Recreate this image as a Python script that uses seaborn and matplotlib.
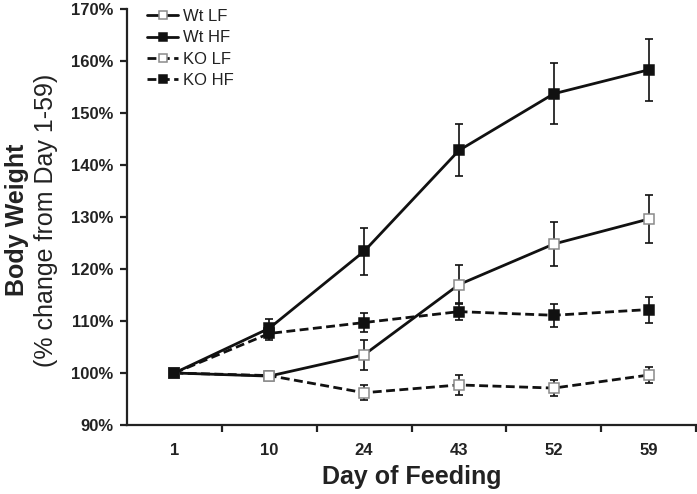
import matplotlib
matplotlib.use("Agg")
import matplotlib.pyplot as plt
import seaborn as sns
import numpy as np
import pandas as pd

# data (% of day-1 body weight)
days = ["1", "10", "24", "43", "52", "59"]
wt_lf = [100, 99.4, 103.5, 117.0, 124.8, 129.6]
wt_lf_err = [0, 0.6, 2.9, 3.7, 4.2, 4.6]
wt_hf = [100, 108.6, 123.4, 142.8, 153.7, 158.3]
wt_hf_err = [0, 1.8, 4.5, 5.0, 5.9, 5.9]
ko_lf = [100, 99.5, 96.2, 97.7, 97.1, 99.6]
ko_lf_err = [0, 0.8, 1.4, 2.0, 1.5, 1.5]
ko_hf = [100, 107.6, 109.7, 111.8, 111.1, 112.2]
ko_hf_err = [0, 1.3, 1.8, 1.6, 2.2, 2.5]

series = [("Wt LF", wt_lf, wt_lf_err, "-", "white", "#8a8a8a"),
          ("Wt HF", wt_hf, wt_hf_err, "-", "#111111", "#111111"),
          ("KO LF", ko_lf, ko_lf_err, "--", "white", "#8a8a8a"),
          ("KO HF", ko_hf, ko_hf_err, "--", "#111111", "#111111")]

sns.set_style("ticks")
plt.rcParams["font.family"] = ["Liberation Sans", "DejaVu Sans"]
TXT = "#222222"

fig = plt.figure(figsize=(6.97, 4.94), dpi=100)
ax = fig.add_axes([0.1822, 0.1397, 0.8164, 0.8421])

x = np.arange(len(days))
for name, vals, err, ls, fc, ec in series:
    df = pd.DataFrame({"pos": x, "val": vals})
    ax.errorbar(x, vals, yerr=err, fmt="none", ecolor="#111111", elinewidth=1.2,
                capsize=2.8, capthick=1.2, zorder=2)
    sns.lineplot(data=df, x="pos", y="val", ax=ax, color="#111111", linestyle=ls,
                 linewidth=2.0, marker="s", markersize=6.8, markerfacecolor=fc,
                 markeredgecolor=ec, markeredgewidth=1.1, label=name, zorder=3)
    if ls == "--":
        ax.lines[-1].set_dashes((3.2, 1.6))

ax.set_xlim(-0.5, 5.5)
ax.set_ylim(90, 170)
ax.set_yticks(np.arange(90, 171, 10))
ax.set_yticklabels([f"{v}%" for v in range(90, 171, 10)])
ax.set_xticks(x)
ax.set_xticklabels(days)
ax.set_xticks(np.arange(0.5, 6, 1), minor=True)
ax.tick_params(axis="x", which="major", length=0, pad=13)
ax.tick_params(axis="x", which="minor", length=5, width=1.6, color=TXT)
ax.tick_params(axis="y", length=5, width=1.6, color=TXT, pad=5)
for lab in ax.get_xticklabels() + ax.get_yticklabels():
    lab.set_fontsize(12); lab.set_fontweight("bold"); lab.set_color(TXT)
sns.despine(ax=ax)
for s in ["left", "bottom"]:
    ax.spines[s].set_linewidth(1.6)
    ax.spines[s].set_color(TXT)

ax.set_xlabel("Day of Feeding", fontsize=18, fontweight="bold", color=TXT, labelpad=5)
ax.set_ylabel("")
fig.text(0.024, 0.555, "Body Weight", rotation=90, ha="center", va="center",
         fontsize=18, fontweight="bold", color=TXT)
fig.text(0.066, 0.553, "(% change from Day 1-59)", rotation=90, ha="center",
         va="center", fontsize=18, color=TXT)

leg = ax.legend(loc="upper left", bbox_to_anchor=(0.02, 1.02), frameon=False,
                fontsize=12, handlelength=1.9, handletextpad=0.3,
                labelspacing=0.38, markerscale=0.75, borderpad=0)
for t in leg.get_texts():
    t.set_color(TXT)

plt.savefig("out.png", dpi=100)
